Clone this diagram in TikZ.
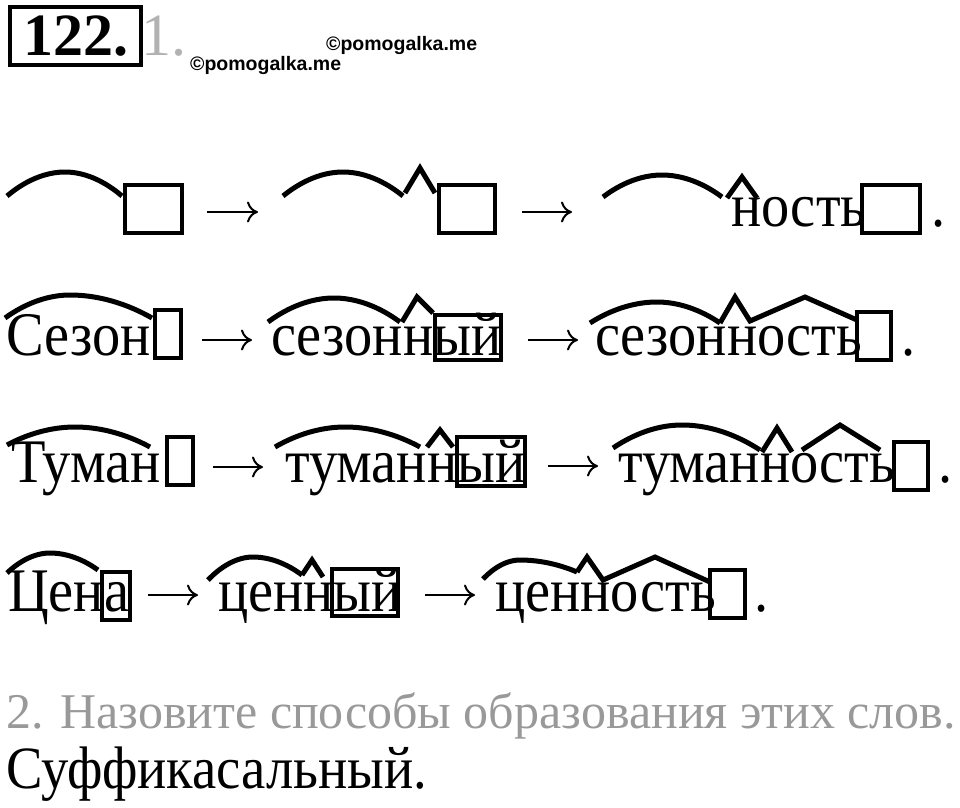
\documentclass[tikz,border=0pt]{standalone}
\usepackage{fontspec}
\setmainfont{Liberation Serif}
\newfontfamily\wordfont[FakeStretch=0.91]{Liberation Serif}
\newfontfamily\wmfont{Liberation Sans}
\usetikzlibrary{positioning}
\usetikzlibrary{arrows.meta}
\definecolor{taskgray}{gray}{0.6}
\definecolor{numgray}{gray}{0.7}

\begin{document}
\begin{tikzpicture}[x=1pt,y=-1pt,
  word/.style={anchor=base west,inner sep=0pt,font=\wordfont\fontsize{62}{62}\selectfont},
  conn/.style={line width=2pt,-{To[length=11pt,width=21pt]}},
  root/.style={line width=5pt},
  suffix/.style={line width=5pt,line join=miter},
  ending/.style={draw,line width=4.5pt},
  wm/.style={anchor=base west,inner sep=0pt,font=\wmfont\bfseries\fontsize{19.5}{20}\selectfont}]
  \useasboundingbox (0,0) rectangle (960,807);
  % header
  \node[draw,line width=3.5pt,minimum width=131pt,minimum height=58pt,inner sep=0pt,
        font=\bfseries\fontsize{60}{60}\selectfont](num) at (75.5,36) {122.};
  \node[anchor=base west,inner sep=0pt,text=numgray,font=\fontsize{60}{60}\selectfont](part) at (141,55) {1.};
  \node[wm](wmA) at (326,50) {©pomogalka.me};
  \node[wm](wmB) at (190,70) {©pomogalka.me};
  % row 0: scheme
  \draw[root] (7,196) parabola bend (65,172) (122,196);
  \draw[ending] (125,185) rectangle (182,233);
  \draw[conn] (207,212) coordinate (arrAs) -- (258,212) coordinate (arrAe);
  \draw[root] (283,196) parabola bend (343,172) (403,196);
  \draw[suffix] (405,193) -- (420,168) -- (435,193);
  \draw[ending] (439,185) rectangle (495,233);
  \draw[conn] (522,212) coordinate (arrBs) -- (572,212) coordinate (arrBe);
  \draw[root] (603,197) parabola bend (662,175) (722,197);
  \draw[suffix] (727,198) -- (742,177) -- (757,198);
  \node[word](nost) at (731,226) {ность};
  \draw[ending] (862,185) rectangle (920,233);
  \node[word](dotA) at (931,226) {.};
  % row 1
  \node[word](sezon) at (6,355) {Сезон};
  \draw[root] (5,318) parabola bend (70,295) (152,318);
  \draw[ending] (155,310) rectangle (181,358);
  \draw[conn] (202,340) coordinate (arrCs) -- (252,340) coordinate (arrCe);
  \node[word](sezonnyj) at (271,355) {сезонный};
  \draw[root] (268,322) parabola bend (334,298) (400,322);
  \draw[suffix] (402,322) -- (417,297) -- (433,313);
  \draw[ending] (435,315) rectangle (501,360);
  \draw[conn] (528,340) coordinate (arrDs) -- (578,340) coordinate (arrDe);
  \node[word](sezonnost) at (595,355) {сезонность};
  \draw[root] (590,323) parabola bend (657,302) (720,323);
  \draw[suffix] (720,323) -- (735,297) -- (750,321) -- (805,297) -- (857,320);
  \draw[ending] (857,312) rectangle (891,360);
  \node[word](dotB) at (901,355) {.};
  % row 2
  \node[word](tuman) at (11,482) {Туман};
  \draw[root] (7,445) parabola bend (75,427) (150,447);
  \draw[ending] (167,437) rectangle (193,485);
  \draw[conn] (213,467) coordinate (arrEs) -- (263,467) coordinate (arrEe);
  \node[word](tumannyj) at (285,482) {туманный};
  \draw[root] (275,447) parabola bend (345,427) (420,447);
  \draw[suffix] (427,447) -- (440,430) -- (453,447);
  \draw[ending] (457,437) rectangle (525,486);
  \draw[conn] (548,466) coordinate (arrFs) -- (598,466) coordinate (arrFe);
  \node[word](tumannost) at (618,482) {туманность};
  \draw[root] (613,448) parabola bend (682,425) (760,450);
  \draw[suffix] (762,452) -- (777,428) -- (792,452);
  \draw[suffix] (802,450) -- (840,425) -- (880,450);
  \draw[ending] (894,442) rectangle (928,490);
  \node[word](dotC) at (938,482) {.};
  % row 3
  \node[word](cena) at (8,611) {Цена};
  \draw[root] (7,573) parabola bend (50,553) (98,570);
  \draw[ending] (102,572) rectangle (130,620);
  \draw[conn] (148,595) coordinate (arrGs) -- (198,595) coordinate (arrGe);
  \node[word](cennyj) at (218,611) {ценный};
  \draw[root] (208,580) parabola bend (253,557) (302,575);
  \draw[suffix] (302,575) -- (312,560) -- (323,577);
  \draw[ending] (332,569) rectangle (398,616);
  \draw[conn] (425,595) coordinate (arrHs) -- (475,595) coordinate (arrHe);
  \node[word](cennost) at (495,611) {ценность};
  \draw[root] (483,579) parabola bend (520,560) (577,572);
  \draw[suffix] (577,572) -- (587,557) -- (603,580) -- (655,557) -- (710,582);
  \draw[ending] (710,570) rectangle (745,618);
  \node[word](dotD) at (754,611) {.};
  % task 2
  \node[anchor=base west,inner sep=0pt,text=taskgray,font=\fontsize{50}{50}\selectfont](task) at (6,728) {2. Назовите способы образования этих слов.};
  \node[anchor=base west,inner sep=0pt,font=\wordfont\fontsize{60}{60}\selectfont](answer) at (6,788) {Суффикасальный.};
\end{tikzpicture}
\end{document}
